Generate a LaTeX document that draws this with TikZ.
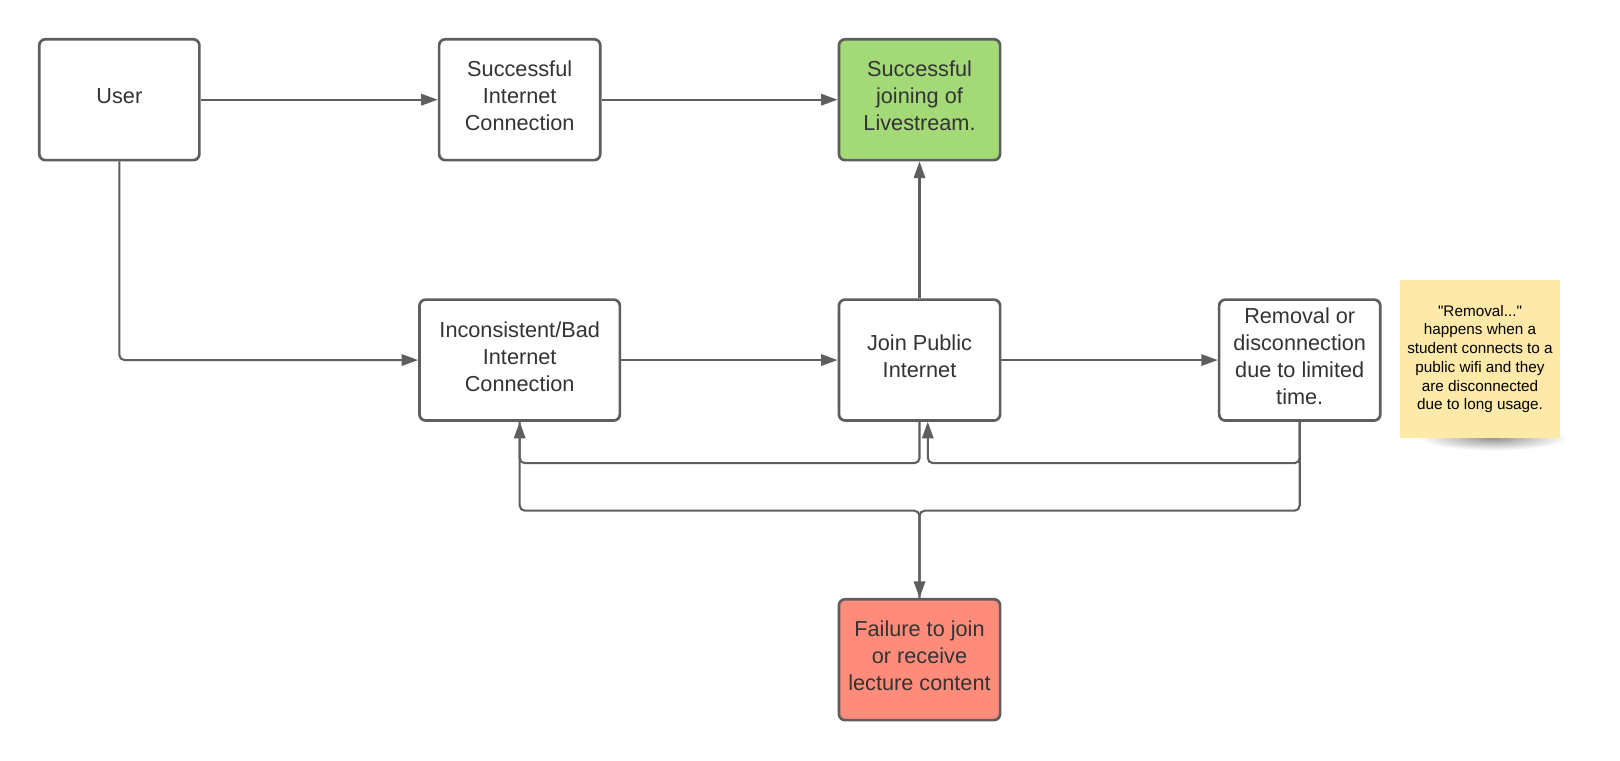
\documentclass[tikz,border=0pt]{standalone}
\usepackage{fontspec}
\setmainfont{Liberation Sans}
\usetikzlibrary{arrows.meta}
\definecolor{ln}{HTML}{5E5E5E}
\definecolor{txt}{HTML}{333333}
\definecolor{okgreen}{HTML}{A3D977}
\definecolor{failred}{HTML}{FF8B7B}
\definecolor{notey}{HTML}{FEE9A8}
\begin{document}
\begin{tikzpicture}[x=1pt,y=-1pt,
  boxtext/.style={align=center, text=txt, font=\fontsize{21}{26}\selectfont, inner sep=0pt, yshift=3.5pt},
  box/.style={draw=ln, line width=2.6pt, rounded corners=6pt, minimum width=156pt, minimum height=117pt,
    inner sep=0pt, fill=white, label={[boxtext]center:{#1}}},
  conn/.style={draw=ln, line width=2pt, rounded corners=5pt, -{Triangle[length=16pt,width=11pt]}},
  plain/.style={draw=ln, line width=2pt, rounded corners=5pt},
  note/.style={fill=notey, minimum width=155pt, minimum height=153pt, align=center, inner sep=0pt,
    font=\fontsize{14.8}{18.1}\selectfont, text=black}]
\useasboundingbox (0,0) rectangle (1568,736);
\fill[white] (0,0) rectangle (1568,736);

\node[box={User}, minimum width=155pt] (user) at (115.5,96.5) {};
\node[box={Successful\\Internet\\Connection}] (sic) at (503,96.5) {};
\node[box={Successful\\joining of\\Livestream.}, fill=okgreen] (sjl) at (890,96.5) {};
\node[box={Inconsistent/Bad\\Internet\\Connection}, minimum width=194pt] (ibi) at (503,348.5) {};
\node[box={Join Public\\Internet}] (jpi) at (890,348.5) {};
\node[box={Removal or\\disconnection\\due to limited\\time.}] (rem) at (1258,348.5) {};
\node[box={Failure to join\\or receive\\lecture content}, fill=failred] (fail) at (890,638.5) {};

\shade[inner color=black!42, outer color=white] (1445,424) ellipse (72 and 12);
\node[note] (nt) at (1432.5,347.5) {\textquotedbl Removal...\textquotedbl\\happens when a\\student connects to a\\public wifi and they\\are disconnected\\due to long usage.};

\draw[conn] (user.east) -- (sic.west);
\draw[conn] (sic.east) -- (sjl.west);
\draw[conn] (jpi.north) -- (sjl.south);
\draw[conn] (user.south) |- (ibi.west);
\draw[conn] (ibi.east) -- (jpi.west);
\draw[conn] (jpi.east) -- (rem.west);
\draw[conn] (jpi.south) -- ++(0,40) -| (ibi.south);
\draw[conn] (rem.south) -- ++(0,40) -| ([xshift=8pt]jpi.south);
\draw[plain] (ibi.south) -- ++(0,86) -| (fail.north);
\draw[conn] (rem.south) -- ++(0,86) -| (fail.north);
\end{tikzpicture}
\end{document}
